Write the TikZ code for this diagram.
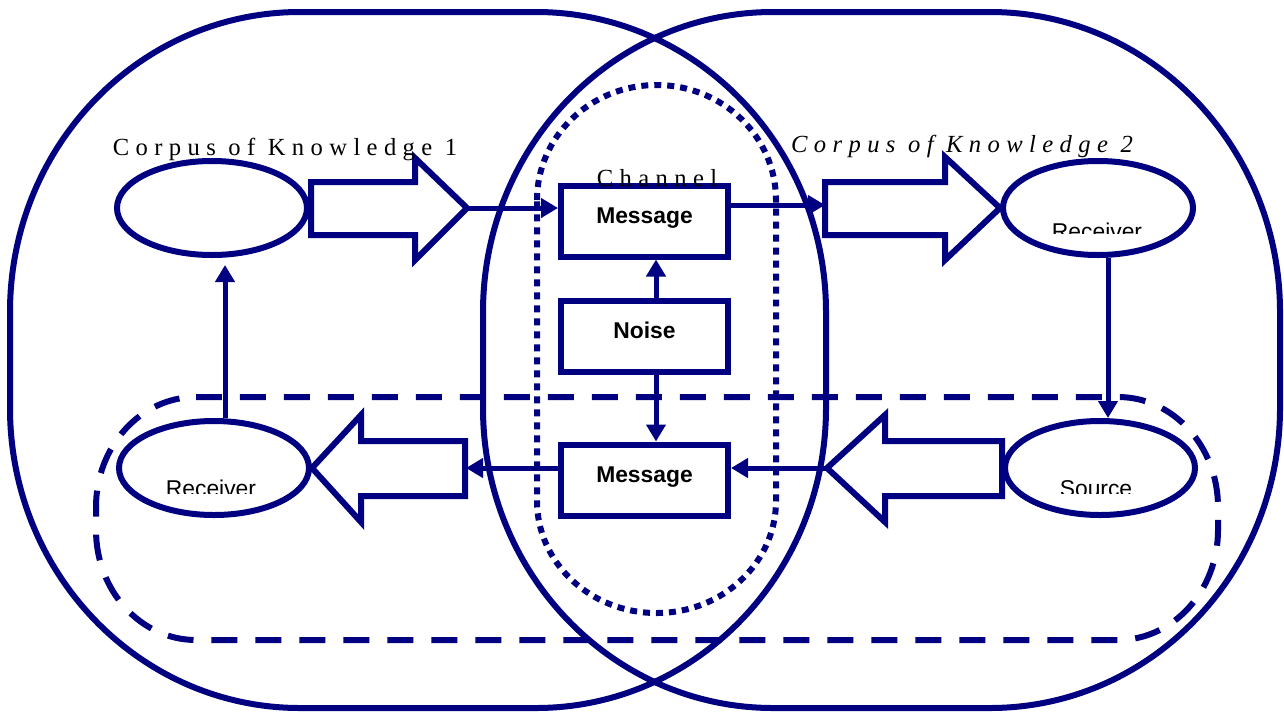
\documentclass[tikz,border=0pt]{standalone}
\usepackage{fontspec}
\setmainfont{Liberation Serif}
\setsansfont{Liberation Sans}
\newfontfamily\spacedserif[LetterSpace=26]{Liberation Serif}
\usepackage[usenames,dvipsnames,svgnames,table]{xcolor}
\usepackage{tikz}
\usetikzlibrary{arrows.meta}
\usetikzlibrary{shapes.geometric}
\def\px{0.02cm}
\def\largeur{1284}
\def\hauteur{711}

\tikzset{
	oval/.style={ellipse, draw=Navy, line width=6*\px, fill=white, minimum width=190*\px, minimum height=94*\px, inner sep=0pt},
	msgbox/.style={rectangle, draw=Navy, line width=6*\px, fill=white, minimum width=167*\px, minimum height=71*\px, inner sep=0pt, text height=9.5pt, text depth=7pt, font=\sffamily\bfseries\fontsize{13}{15}\selectfont},
	ovaltext/.style={anchor=base, inner sep=0pt, font=\sffamily\fontsize{13}{15}\selectfont},
	corpustext/.style={anchor=base, inner sep=0pt, font=\spacedserif\fontsize{14}{16}\selectfont},
	bigarrow/.style={draw=Navy, line width=6*\px, fill=white, line join=miter},
	conn/.style={draw=Navy, line width=5*\px, -{Triangle[length=0.34cm, width=0.38cm]}},
}

\begin{document}
\begin{tikzpicture}[x=\px, y=-\px]
	\useasboundingbox (0,0) rectangle (\largeur,\hauteur);
	%\draw[step=50, black!20] (0,0) grid (\largeur,\hauteur);
	% the two corpora
	\draw[draw=Navy, line width=6*\px] (300,12) -- (536,12)
		arc[start angle=270, end angle=360, x radius=290, y radius=300] -- (826,408)
		arc[start angle=0, end angle=90, x radius=290, y radius=300] -- (300,708)
		arc[start angle=90, end angle=180, x radius=290, y radius=300] -- (10,312)
		arc[start angle=180, end angle=270, x radius=290, y radius=300] -- cycle;
	\draw[draw=Navy, line width=6*\px] (773,12) -- (990,12)
		arc[start angle=270, end angle=360, x radius=290, y radius=300] -- (1280,408)
		arc[start angle=0, end angle=90, x radius=290, y radius=300] -- (773,708)
		arc[start angle=90, end angle=180, x radius=290, y radius=300] -- (483,312)
		arc[start angle=180, end angle=270, x radius=290, y radius=300] -- cycle;
	% feedback loop
	\draw[draw=Navy, line width=6*\px, dash pattern=on 0.52cm off 0.36cm] (196,397) -- (1118,397)
		arc[start angle=270, end angle=360, x radius=100, y radius=110] -- (1218,530)
		arc[start angle=0, end angle=90, x radius=100, y radius=110] -- (196,640)
		arc[start angle=90, end angle=180, x radius=100, y radius=110] -- (96,507)
		arc[start angle=180, end angle=270, x radius=100, y radius=110] -- cycle;
	% channel
	\draw[draw=Navy, line width=6*\px, dash pattern=on 0.14cm off 0.12cm] (537,200)
		arc[start angle=180, end angle=360, x radius=119.5, y radius=115] -- (776,501)
		arc[start angle=0, end angle=180, x radius=119.5, y radius=112] -- cycle;

	% big arrows
	\draw[bigarrow] (311,182) -- (415,182) -- (415,158) -- (467,208) -- (415,260) -- (415,235) -- (311,235) -- cycle;
	\coordinate (encA) at (467,208);
	\draw[bigarrow] (825,182) -- (945,182) -- (945,157) -- (1000,208) -- (945,260) -- (945,235) -- (825,235) -- cycle;
	\coordinate (decA) at (825,205);
	\draw[bigarrow] (1002,441) -- (885,441) -- (885,415) -- (827,468) -- (885,522) -- (885,496) -- (1002,496) -- cycle;
	\coordinate (encB) at (827,468);
	\draw[bigarrow] (465,441) -- (361,441) -- (361,415) -- (312,468) -- (361,522) -- (361,496) -- (465,496) -- cycle;
	\coordinate (decB) at (466,468);

	% ovals
	\node[oval] (source1) at (212,208) {};
	\node[oval] (receiver2) at (1098,208) {};
	\node[oval] (receiver1) at (214,468) {};
	\node[oval] (source2) at (1100,468) {};

	% messages and noise
	\node[msgbox] (msgup) at (644.5,221) {Message};
	\node[msgbox] (noise) at (644.5,336.5) {Noise};
	\node[msgbox] (msgdown) at (644.5,480) {Message};

	% connectors
	\draw[conn] (encA) -- (encA -| msgup.west);
	\draw[conn] (decA -| msgup.east) -- (decA);
	\draw[conn] ([xshift=11.5*\px]noise.north) -- ([xshift=11.5*\px]msgup.south);
	\draw[conn] ([xshift=11.5*\px]noise.south) -- ([xshift=11.5*\px]msgdown.north);
	\draw[conn] (encB) -- (encB -| msgdown.east);
	\draw[conn] (encB -| msgdown.west) -- (decB);
	\draw[conn] ([xshift=10*\px]receiver2.south) -- ([xshift=8*\px]source2.north);
	\draw[conn] ([xshift=11*\px]receiver1.north) -- ([xshift=13*\px,yshift=-7*\px]source1.south);

	% texts
	\node[corpustext] (corpus1) at (285,155) {Corpus of Knowledge 1};
	\node[corpustext] (corpus2) at (962,152) {\itshape Corpus of Knowledge 2};
	\node[corpustext] (channel) at (657,186) {Channel};
	\begin{scope}
		\clip (1000,150) rectangle (1200,233);
		\node[ovaltext] (receiver2txt) at (1097,239.5) {Receiver};
	\end{scope}
	\begin{scope}
		\clip (110,420) rectangle (320,493);
		\node[ovaltext] (receiver1txt) at (211,496.5) {Receiver};
	\end{scope}
	\begin{scope}
		\clip (1000,420) rectangle (1200,493);
		\node[ovaltext] (source2txt) at (1096,496.5) {Source};
	\end{scope}
\end{tikzpicture}
\end{document}
